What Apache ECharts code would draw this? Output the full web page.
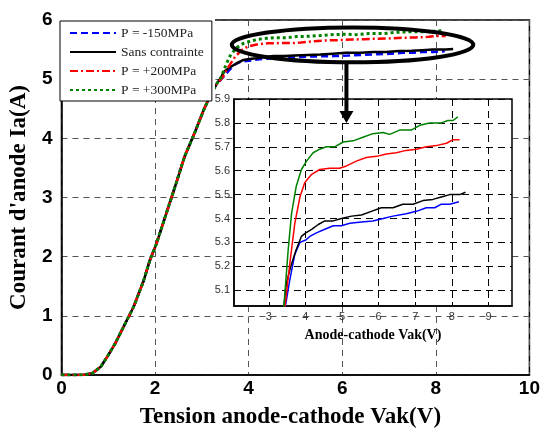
<!DOCTYPE html>
<html>
<head>
<meta charset="utf-8">
<script src="https://cdn.jsdelivr.net/npm/echarts@6/dist/echarts.min.js"></script>
<style>html,body{margin:0;padding:0;background:#fff;}#c{width:543px;height:435px;}</style>
</head>
<body>
<div id="c"></div>
<script>
// ---- data ----
const seriesNames = ['P = -150MPa', 'Sans contrainte', 'P = +200MPa', 'P = +300MPa'];
const seriesColors = ['#0000ff', '#000000', '#ff0000', '#008000'];

// common rising part of I(V), [V, A]
const rise = [[0,0],[0.3,0],[0.5,0.005],[0.66,0.03],[0.84,0.14],[0.98,0.31],[1.15,0.535],[1.33,0.82],
  [1.54,1.15],[1.75,1.58],[1.89,1.94],[2.03,2.22],[2.24,2.73],[2.45,3.24],[2.63,3.69],[2.84,4.08],
  [3.05,4.5],[3.2,4.75],[3.3,4.9]];

// saturation parts
const satBlue = [[3.45,5.03],[3.57,5.14],[3.71,5.25],[3.85,5.30],[4.01,5.31],[4.12,5.325],[4.3,5.34],
  [4.53,5.355],[4.76,5.37],[4.98,5.37],[5.21,5.38],[5.53,5.385],[5.84,5.39],[6.12,5.40],[6.39,5.41],
  [6.75,5.42],[7.03,5.43],[7.3,5.445],[7.53,5.445],[7.71,5.46],[7.94,5.46],[8.19,5.47]];
const satBlack = [[3.41,5.03],[3.48,5.13],[3.62,5.21],[3.75,5.27],[3.89,5.325],[4.01,5.34],[4.17,5.355],
  [4.35,5.375],[4.53,5.39],[4.76,5.39],[4.98,5.40],[5.26,5.41],[5.53,5.415],[5.8,5.43],[6.07,5.445],
  [6.39,5.445],[6.66,5.46],[6.94,5.46],[7.21,5.475],[7.48,5.48],[7.71,5.49],[7.94,5.50],[8.21,5.50],[8.37,5.51]];
const satRed = [[3.44,5.03],[3.58,5.22],[3.71,5.38],[3.85,5.49],[3.98,5.55],[4.17,5.585],[4.39,5.605],
  [4.66,5.61],[4.93,5.61],[5.12,5.62],[5.39,5.64],[5.66,5.655],[5.94,5.66],[6.21,5.67],[6.48,5.675],
  [6.75,5.685],[7.03,5.69],[7.3,5.70],[7.57,5.705],[7.85,5.715],[8.03,5.73],[8.21,5.73]];
const satGreen = [[3.41,5.03],[3.53,5.27],[3.62,5.42],[3.75,5.535],[3.89,5.605],[4.03,5.64],[4.21,5.675],
  [4.39,5.69],[4.57,5.70],[4.8,5.70],[5.03,5.72],[5.3,5.725],[5.57,5.74],[5.84,5.755],[6.12,5.76],
  [6.3,5.752],[6.57,5.77],[6.89,5.77],[7.12,5.79],[7.39,5.80],[7.71,5.80],[7.89,5.81],[8.03,5.81],[8.16,5.825]];

const insetXTicks = [3,4,5,6,7,8,9];
const insetYTicks = [5.1,5.2,5.3,5.4,5.5,5.6,5.7,5.8,5.9];

// annotation anchors (data coords)
const ellipseCenter = [6.22, 5.58];
const ellipseCorner = [8.8, 5.875];
const arrowTip = [5.12, 5.8]; // inset coords

// ---- chart ----
const sats = [satBlue, satBlack, satRed, satGreen];
const mainTypes = [[7,4], 'solid', [8,3,2,3], [3,3]];
const chart = echarts.init(document.getElementById('c'), null, {renderer: 'canvas'});

const series = [];
seriesNames.forEach((n, i) => {
  series.push({
    name: n, type: 'line', xAxisIndex: 0, yAxisIndex: 0,
    data: rise.concat(sats[i]), symbol: 'none', showSymbol: false,
    lineStyle: {color: seriesColors[i], width: i === 3 ? 3 : 2.5, type: mainTypes[i]},
    itemStyle: {color: 'rgba(0,0,0,0)', borderWidth: 0}, z: 2, animation: false
  });
});
seriesNames.forEach((n, i) => {
  series.push({
    name: n + ' (zoom)', type: 'line', xAxisIndex: 1, yAxisIndex: 1,
    data: rise.concat(sats[i]), symbol: 'none', showSymbol: false, clip: true,
    lineStyle: {color: seriesColors[i], width: 1.5, type: 'solid'},
    itemStyle: {color: seriesColors[i]}, z: 7, animation: false
  });
});

const option = {
  animation: false,
  backgroundColor: '#fff',
  grid: [
    {left: 57, top: 20, width: 474, height: 355, show: true, borderColor: '#000', borderWidth: 1.5, backgroundColor: 'transparent', z: 0},
    {left: 234, top: 99, width: 278, height: 207, show: true, borderColor: '#000', borderWidth: 1.5, backgroundColor: '#fff', z: 5}
  ],
  legend: {
    data: seriesNames, orient: 'vertical', left: 60, top: 21,
    padding: [5, 8, 4, 9], itemWidth: 46, itemHeight: 14, itemGap: 5,
    backgroundColor: '#fff', borderColor: '#000', borderWidth: 1,
    textStyle: {fontFamily: 'Liberation Serif', fontSize: 13.5, color: '#222'},
    selectedMode: false, z: 4
  },
  xAxis: [
    {type: 'value', gridIndex: 0, min: 0, max: 10, interval: 2,
     axisLine: {show: true, lineStyle: {color: '#000', width: 1.5}},
     axisTick: {show: false},
     splitLine: {show: true, lineStyle: {color: '#555', width: 1, type: [6, 5]}},
     axisLabel: {margin: 4, fontFamily: 'Liberation Sans', fontWeight: 'bold', fontSize: 19, color: '#000'},
     name: 'Tension anode-cathode Vak(V)', nameLocation: 'middle', nameGap: 31,
     nameTextStyle: {fontFamily: 'Liberation Serif', fontWeight: 'bold', fontSize: 23, color: '#000', padding: [0, 10, 0, 0]}},
    {type: 'value', gridIndex: 1, min: 2.05, max: 9.64, splitNumber: 8, z: 6,
     axisLine: {show: true, lineStyle: {color: '#000', width: 1.5}},
     axisTick: {show: true, inside: true, length: 4, customValues: insetXTicks, lineStyle: {color: '#000'}},
     splitLine: {show: true, lineStyle: {color: '#000', width: 1, type: [7, 5]}},
     axisLabel: {customValues: insetXTicks, margin: 5, fontFamily: 'Liberation Sans', fontSize: 11, color: '#333'},
     name: 'Anode-cathode Vak(V)', nameLocation: 'middle', nameGap: 22,
     nameTextStyle: {fontFamily: 'Liberation Serif', fontWeight: 'bold', fontSize: 14, color: '#000'}}
  ],
  yAxis: [
    {type: 'value', gridIndex: 0, min: 0, max: 6, interval: 1,
     axisLine: {show: true, lineStyle: {color: '#000', width: 1.5}},
     axisTick: {show: false},
     splitLine: {show: true, lineStyle: {color: '#555', width: 1, type: [6, 5]}},
     axisLabel: {margin: 9, fontFamily: 'Liberation Sans', fontWeight: 'bold', fontSize: 19, color: '#000'},
     name: "Courant d'anode Ia(A)", nameLocation: 'middle', nameGap: 27,
     nameTextStyle: {fontFamily: 'Liberation Serif', fontWeight: 'bold', fontSize: 23, color: '#000'}},
    {type: 'value', gridIndex: 1, min: 5.034, max: 5.9, splitNumber: 9, z: 6,
     axisLine: {show: true, lineStyle: {color: '#000', width: 1.5}},
     axisTick: {show: true, inside: true, length: 4, customValues: insetYTicks, lineStyle: {color: '#000'}},
     splitLine: {show: true, lineStyle: {color: '#000', width: 1, type: [7, 5]}},
     axisLabel: {customValues: insetYTicks, margin: 4, fontFamily: 'Liberation Sans', fontSize: 11, color: '#333',
       formatter: v => Number(v).toFixed(1)}}
  ],
  series: series
};
chart.setOption(option);

// annotations positioned through the chart's own coordinate conversion
const c = chart.convertToPixel({gridIndex: 0}, ellipseCenter);
const e = chart.convertToPixel({gridIndex: 0}, ellipseCorner);
const rx = e[0] - c[0], ry = c[1] - e[1];
const tip = chart.convertToPixel({gridIndex: 1}, arrowTip);
const headH = 12, headW = 7;
chart.setOption({
  graphic: [
    {type: 'rect', z: 3, silent: true, shape: {x: 52, y: 13, width: 163, height: 88}, style: {fill: '#fff'}},
    {type: 'ellipse', z: 10, silent: true, shape: {cx: c[0], cy: c[1], rx: rx, ry: ry}, style: {fill: 'none', stroke: '#000', lineWidth: 4}},
    {type: 'line', z: 10, silent: true, shape: {x1: tip[0], y1: c[1] + ry, x2: tip[0], y2: tip[1] - headH + 1}, style: {stroke: '#000', lineWidth: 4}},
    {type: 'polygon', z: 10, silent: true, shape: {points: [[tip[0] - headW, tip[1] - headH], [tip[0] + headW, tip[1] - headH], [tip[0], tip[1]]]}, style: {fill: '#000'}}
  ]
});
</script>
</body>
</html>
